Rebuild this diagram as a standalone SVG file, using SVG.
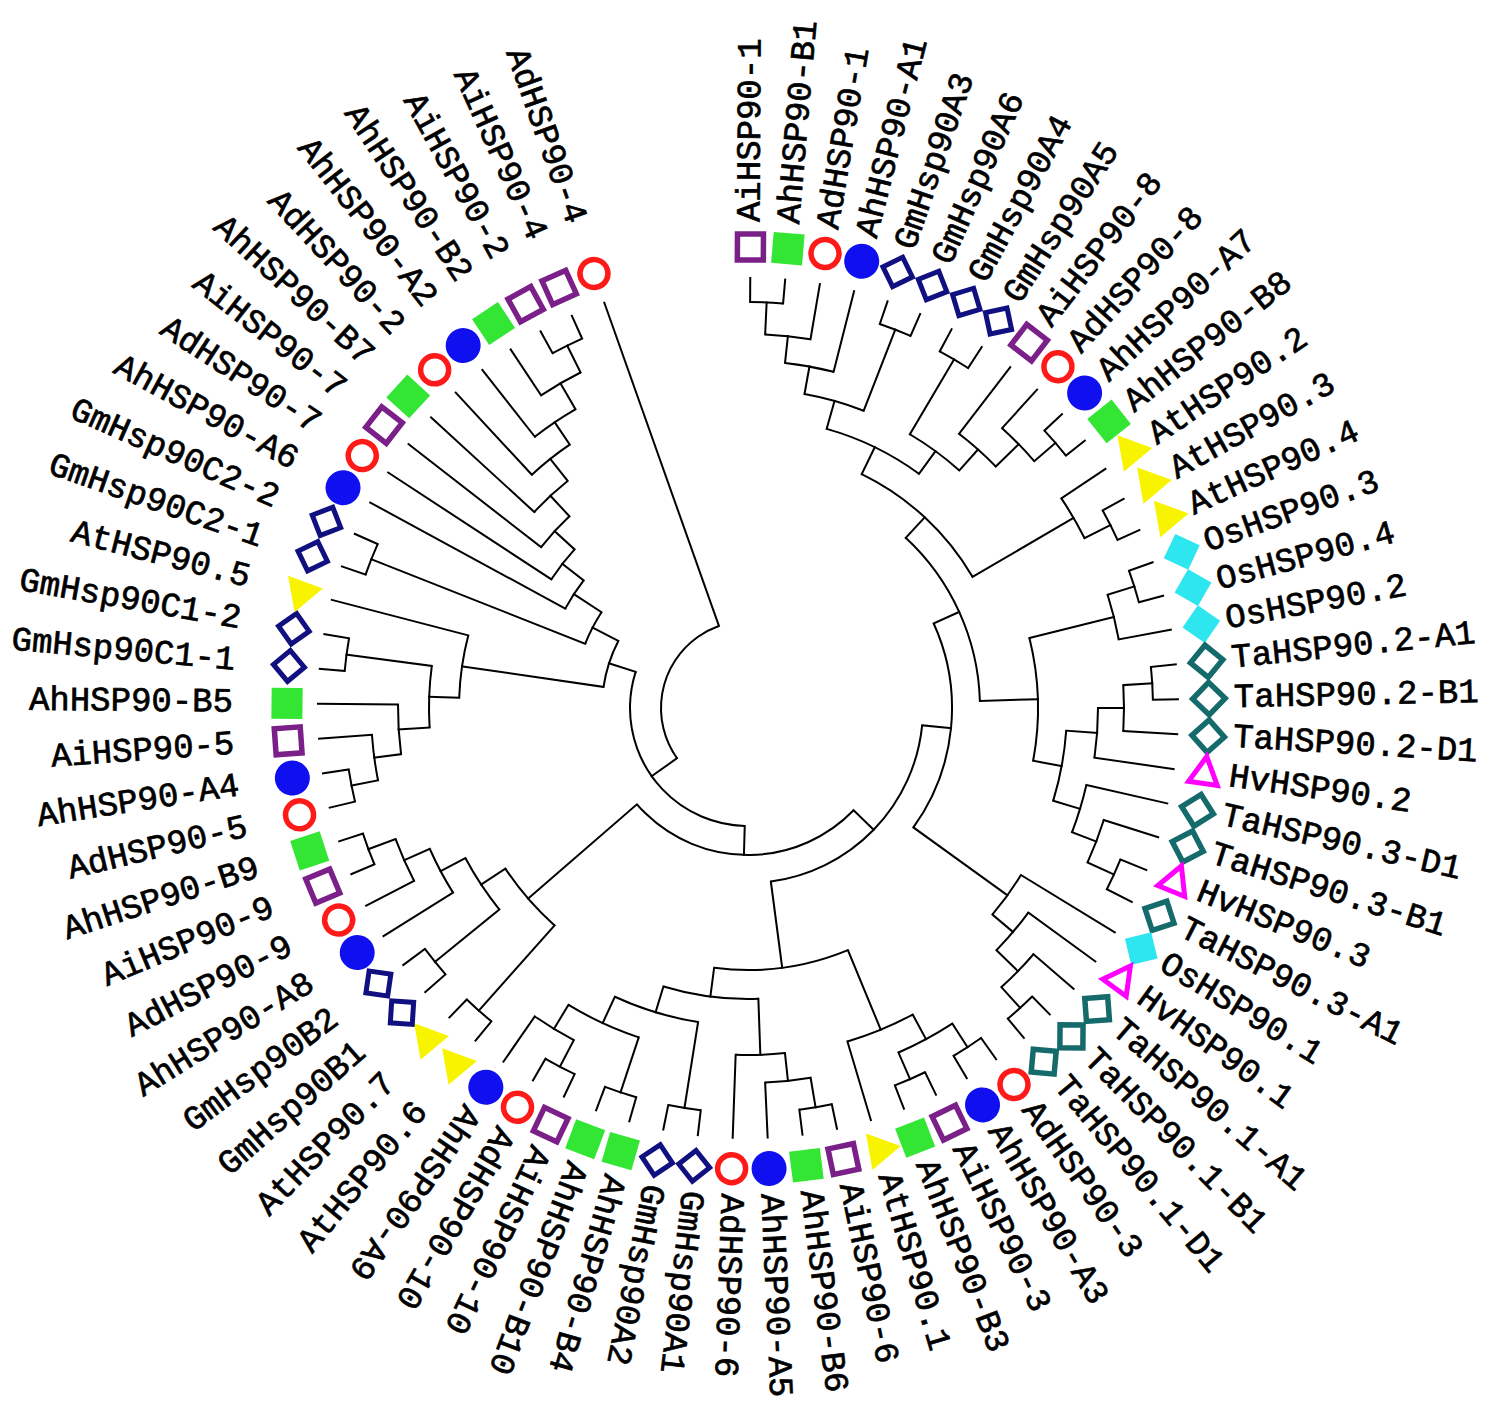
<svg xmlns="http://www.w3.org/2000/svg" xmlns:xlink="http://www.w3.org/1999/xlink" width="1500" height="1413" viewBox="0 0 1500 1413">
<defs>
<style>
.t{font-family:"Liberation Mono","DejaVu Sans Mono",monospace;font-size:34px;fill:#000;stroke:#000;stroke-width:0.7px;dominant-baseline:central}
.e{text-anchor:end}
#tree line,#tree circle{stroke:#000;stroke-width:2;fill:none}
#tree line{stroke-linecap:square}
</style>
<rect id="sqO" x="-13" y="-13" width="26" height="26" fill="none" stroke="#7a2088" stroke-width="5.5"/>
<rect id="sqF" x="-15.5" y="-15.5" width="31" height="31" fill="#33e633"/>
<circle id="cirO" r="14" fill="none" stroke="#ff1a1a" stroke-width="5.5"/>
<circle id="cirF" r="17.5" fill="#0f0fef"/>
<rect id="dmN" x="-11" y="-11" width="22" height="22" fill="none" stroke="#101080" stroke-width="5" transform="rotate(45)"/>
<rect id="dmT" x="-11.5" y="-11.5" width="23" height="23" fill="none" stroke="#156b6b" stroke-width="5.5" transform="rotate(45)"/>
<rect id="dmC" x="-13.5" y="-13.5" width="27" height="27" fill="#2ee6f0" transform="rotate(45)"/>
<polygon id="triY" points="21,-3.7 -7.3,20.1 -13.7,-16.4" fill="#f8f400"/>
<polygon id="triM" points="0,-17 14.5,10 -14.5,10" fill="none" stroke="#ff00ff" stroke-width="5" stroke-linejoin="miter"/>
</defs>
<rect width="1500" height="1413" fill="#fff"/>
<g id="tree" transform="translate(748 708)">
<g id="arcs">
<circle r="406" pathLength="360" stroke-dasharray="4.66 400" transform="rotate(-89.7)"/>
<circle r="374" pathLength="360" stroke-dasharray="6.99 400" transform="rotate(-87.37)"/>
<circle r="347" pathLength="360" stroke-dasharray="8.155 400" transform="rotate(-83.875)"/>
<circle r="406" pathLength="360" stroke-dasharray="4.66 400" transform="rotate(-71.06)"/>
<circle r="319" pathLength="360" stroke-dasharray="11.07 400" transform="rotate(-79.8)"/>
<circle r="405" pathLength="360" stroke-dasharray="4.66 400" transform="rotate(-61.74)"/>
<circle r="406" pathLength="360" stroke-dasharray="4.66 400" transform="rotate(-43.1)"/>
<circle r="378" pathLength="360" stroke-dasharray="6.99 400" transform="rotate(-47.76)"/>
<circle r="346" pathLength="360" stroke-dasharray="8.155 400" transform="rotate(-52.42)"/>
<circle r="318" pathLength="360" stroke-dasharray="11.07 400" transform="rotate(-59.41)"/>
<circle r="290" pathLength="360" stroke-dasharray="20.385 400" transform="rotate(-74.26)"/>
<circle r="406" pathLength="360" stroke-dasharray="4.66 400" transform="rotate(-29.12)"/>
<circle r="377" pathLength="360" stroke-dasharray="6.99 400" transform="rotate(-33.78)"/>
<circle r="260" pathLength="360" stroke-dasharray="33.785 400" transform="rotate(-64.07)"/>
<circle r="405" pathLength="360" stroke-dasharray="4.66 400" transform="rotate(-19.8)"/>
<circle r="377" pathLength="360" stroke-dasharray="6.99 400" transform="rotate(-17.47)"/>
<circle r="405" pathLength="360" stroke-dasharray="4.66 400" transform="rotate(-5.82)"/>
<circle r="376" pathLength="360" stroke-dasharray="6.99 400" transform="rotate(-3.49)"/>
<circle r="350" pathLength="360" stroke-dasharray="8.155 400" transform="rotate(0.005)"/>
<circle r="402" pathLength="360" stroke-dasharray="4.66 400" transform="rotate(22.14)"/>
<circle r="373" pathLength="360" stroke-dasharray="6.99 400" transform="rotate(17.48)"/>
<circle r="347" pathLength="360" stroke-dasharray="8.155 400" transform="rotate(12.82)"/>
<circle r="319" pathLength="360" stroke-dasharray="12.82 400" transform="rotate(4.08)"/>
<circle r="290" pathLength="360" stroke-dasharray="24.465 400" transform="rotate(-13.975)"/>
<circle r="232" pathLength="360" stroke-dasharray="45.44 400" transform="rotate(-47.18)"/>
<circle r="405" pathLength="360" stroke-dasharray="4.66 400" transform="rotate(45.44)"/>
<circle r="377" pathLength="360" stroke-dasharray="6.99 400" transform="rotate(40.78)"/>
<circle r="347" pathLength="360" stroke-dasharray="8.155 400" transform="rotate(36.12)"/>
<circle r="320" pathLength="360" stroke-dasharray="8.74 400" transform="rotate(31.46)"/>
<circle r="204" pathLength="360" stroke-dasharray="60.29 400" transform="rotate(-24.46)"/>
<circle r="404" pathLength="360" stroke-dasharray="4.66 400" transform="rotate(54.76)"/>
<circle r="405" pathLength="360" stroke-dasharray="4.66 400" transform="rotate(64.08)"/>
<circle r="376" pathLength="360" stroke-dasharray="9.32 400" transform="rotate(57.09)"/>
<circle r="348" pathLength="360" stroke-dasharray="11.65 400" transform="rotate(61.75)"/>
<circle r="405" pathLength="360" stroke-dasharray="4.66 400" transform="rotate(78.06)"/>
<circle r="375" pathLength="360" stroke-dasharray="6.99 400" transform="rotate(80.39)"/>
<circle r="347" pathLength="360" stroke-dasharray="8.155 400" transform="rotate(83.885)"/>
<circle r="405" pathLength="360" stroke-dasharray="4.66 400" transform="rotate(96.7)"/>
<circle r="405" pathLength="360" stroke-dasharray="4.66 400" transform="rotate(106.02)"/>
<circle r="405" pathLength="360" stroke-dasharray="4.66 400" transform="rotate(115.34)"/>
<circle r="375" pathLength="360" stroke-dasharray="6.99 400" transform="rotate(117.67)"/>
<circle r="347" pathLength="360" stroke-dasharray="12.815 400" transform="rotate(108.35)"/>
<circle r="318" pathLength="360" stroke-dasharray="15.73 400" transform="rotate(99.03)"/>
<circle r="291" pathLength="360" stroke-dasharray="18.935 400" transform="rotate(87.96)"/>
<circle r="262" pathLength="360" stroke-dasharray="29.855 400" transform="rotate(67.575)"/>
<circle r="175" pathLength="360" stroke-dasharray="76.815 400" transform="rotate(5.685)"/>
<circle r="405" pathLength="360" stroke-dasharray="4.66 400" transform="rotate(129.32)"/>
<circle r="403" pathLength="360" stroke-dasharray="4.66 400" transform="rotate(138.64)"/>
<circle r="405" pathLength="360" stroke-dasharray="4.66 400" transform="rotate(157.28)"/>
<circle r="376" pathLength="360" stroke-dasharray="6.99 400" transform="rotate(152.62)"/>
<circle r="348" pathLength="360" stroke-dasharray="8.155 400" transform="rotate(147.96)"/>
<circle r="320" pathLength="360" stroke-dasharray="11.07 400" transform="rotate(140.97)"/>
<circle r="291" pathLength="360" stroke-dasharray="14.855 400" transform="rotate(131.65)"/>
<circle r="147" pathLength="360" stroke-dasharray="94.99 400" transform="rotate(44.09)"/>
<circle r="404" pathLength="360" stroke-dasharray="4.66 400" transform="rotate(166.6)"/>
<circle r="377" pathLength="360" stroke-dasharray="6.99 400" transform="rotate(168.93)"/>
<circle r="350" pathLength="360" stroke-dasharray="8.155 400" transform="rotate(172.425)"/>
<circle r="405" pathLength="360" stroke-dasharray="4.66 400" transform="rotate(185.24)"/>
<circle r="319" pathLength="360" stroke-dasharray="11.07 400" transform="rotate(176.5)"/>
<circle r="289" pathLength="360" stroke-dasharray="12.525 400" transform="rotate(182.035)"/>
<circle r="405" pathLength="360" stroke-dasharray="4.66 400" transform="rotate(199.22)"/>
<circle r="405" pathLength="360" stroke-dasharray="4.66 400" transform="rotate(241.16)"/>
<circle r="375" pathLength="360" stroke-dasharray="6.99 400" transform="rotate(236.5)"/>
<circle r="345" pathLength="360" stroke-dasharray="8.155 400" transform="rotate(231.84)"/>
<circle r="318" pathLength="360" stroke-dasharray="8.74 400" transform="rotate(227.18)"/>
<circle r="290" pathLength="360" stroke-dasharray="9.03 400" transform="rotate(222.52)"/>
<circle r="262" pathLength="360" stroke-dasharray="9.175 400" transform="rotate(217.86)"/>
<circle r="235" pathLength="360" stroke-dasharray="9.25 400" transform="rotate(213.2)"/>
<circle r="208" pathLength="360" stroke-dasharray="9.285 400" transform="rotate(208.54)"/>
<circle r="175" pathLength="360" stroke-dasharray="11.63 400" transform="rotate(201.55)"/>
<circle r="146" pathLength="360" stroke-dasharray="19.065 400" transform="rotate(188.3)"/>
<circle r="118" pathLength="360" stroke-dasharray="106.245 400" transform="rotate(91.585)"/>
<circle r="87" pathLength="360" stroke-dasharray="105.77 400" transform="rotate(144.71)"/>
</g>
<g id="branches">
<line x1="406" x2="430" transform="rotate(-89.7)"/>
<line x1="406" x2="430" transform="rotate(-85.04)"/>
<line x1="374" x2="430" transform="rotate(-80.38)"/>
<line x1="347" x2="430" transform="rotate(-75.72)"/>
<line x1="406" x2="430" transform="rotate(-71.06)"/>
<line x1="406" x2="430" transform="rotate(-66.4)"/>
<line x1="405" x2="430" transform="rotate(-61.74)"/>
<line x1="405" x2="430" transform="rotate(-57.08)"/>
<line x1="346" x2="430" transform="rotate(-52.42)"/>
<line x1="378" x2="430" transform="rotate(-47.76)"/>
<line x1="406" x2="430" transform="rotate(-43.1)"/>
<line x1="406" x2="430" transform="rotate(-38.44)"/>
<line x1="377" x2="430" transform="rotate(-33.78)"/>
<line x1="406" x2="430" transform="rotate(-29.12)"/>
<line x1="406" x2="430" transform="rotate(-24.46)"/>
<line x1="405" x2="430" transform="rotate(-19.8)"/>
<line x1="405" x2="430" transform="rotate(-15.14)"/>
<line x1="377" x2="430" transform="rotate(-10.48)"/>
<line x1="405" x2="430" transform="rotate(-5.82)"/>
<line x1="405" x2="430" transform="rotate(-1.16)"/>
<line x1="376" x2="430" transform="rotate(3.5)"/>
<line x1="350" x2="430" transform="rotate(8.16)"/>
<line x1="347" x2="430" transform="rotate(12.82)"/>
<line x1="373" x2="430" transform="rotate(17.48)"/>
<line x1="402" x2="430" transform="rotate(22.14)"/>
<line x1="402" x2="430" transform="rotate(26.8)"/>
<line x1="320" x2="430" transform="rotate(31.46)"/>
<line x1="347" x2="430" transform="rotate(36.12)"/>
<line x1="377" x2="430" transform="rotate(40.78)"/>
<line x1="405" x2="430" transform="rotate(45.44)"/>
<line x1="405" x2="430" transform="rotate(50.1)"/>
<line x1="404" x2="430" transform="rotate(54.76)"/>
<line x1="404" x2="430" transform="rotate(59.42)"/>
<line x1="405" x2="430" transform="rotate(64.08)"/>
<line x1="405" x2="430" transform="rotate(68.74)"/>
<line x1="348" x2="430" transform="rotate(73.4)"/>
<line x1="405" x2="430" transform="rotate(78.06)"/>
<line x1="405" x2="430" transform="rotate(82.72)"/>
<line x1="375" x2="430" transform="rotate(87.38)"/>
<line x1="347" x2="430" transform="rotate(92.04)"/>
<line x1="405" x2="430" transform="rotate(96.7)"/>
<line x1="405" x2="430" transform="rotate(101.36)"/>
<line x1="405" x2="430" transform="rotate(106.02)"/>
<line x1="405" x2="430" transform="rotate(110.68)"/>
<line x1="405" x2="430" transform="rotate(115.34)"/>
<line x1="405" x2="430" transform="rotate(120)"/>
<line x1="375" x2="430" transform="rotate(124.66)"/>
<line x1="405" x2="430" transform="rotate(129.32)"/>
<line x1="405" x2="430" transform="rotate(133.98)"/>
<line x1="403" x2="430" transform="rotate(138.64)"/>
<line x1="403" x2="430" transform="rotate(143.3)"/>
<line x1="348" x2="430" transform="rotate(147.96)"/>
<line x1="376" x2="430" transform="rotate(152.62)"/>
<line x1="405" x2="430" transform="rotate(157.28)"/>
<line x1="405" x2="430" transform="rotate(161.94)"/>
<line x1="404" x2="430" transform="rotate(166.6)"/>
<line x1="404" x2="430" transform="rotate(171.26)"/>
<line x1="377" x2="430" transform="rotate(175.92)"/>
<line x1="350" x2="430" transform="rotate(180.58)"/>
<line x1="405" x2="430" transform="rotate(185.24)"/>
<line x1="405" x2="430" transform="rotate(189.9)"/>
<line x1="289" x2="430" transform="rotate(194.56)"/>
<line x1="405" x2="430" transform="rotate(199.22)"/>
<line x1="405" x2="430" transform="rotate(203.88)"/>
<line x1="208" x2="430" transform="rotate(208.54)"/>
<line x1="235" x2="430" transform="rotate(213.2)"/>
<line x1="262" x2="430" transform="rotate(217.86)"/>
<line x1="290" x2="430" transform="rotate(222.52)"/>
<line x1="318" x2="430" transform="rotate(227.18)"/>
<line x1="345" x2="430" transform="rotate(231.84)"/>
<line x1="375" x2="430" transform="rotate(236.5)"/>
<line x1="405" x2="430" transform="rotate(241.16)"/>
<line x1="405" x2="430" transform="rotate(245.82)"/>
<line x1="87" x2="430" transform="rotate(250.48)"/>
<line x1="374" x2="406" transform="rotate(-87.37)"/>
<line x1="347" x2="374" transform="rotate(-83.875)"/>
<line x1="319" x2="347" transform="rotate(-79.8)"/>
<line x1="319" x2="406" transform="rotate(-68.73)"/>
<line x1="290" x2="319" transform="rotate(-74.26)"/>
<line x1="318" x2="405" transform="rotate(-59.41)"/>
<line x1="378" x2="406" transform="rotate(-40.77)"/>
<line x1="346" x2="378" transform="rotate(-44.265)"/>
<line x1="318" x2="346" transform="rotate(-48.34)"/>
<line x1="290" x2="318" transform="rotate(-53.875)"/>
<line x1="260" x2="290" transform="rotate(-64.07)"/>
<line x1="377" x2="406" transform="rotate(-26.79)"/>
<line x1="260" x2="377" transform="rotate(-30.285)"/>
<line x1="232" x2="260" transform="rotate(-47.18)"/>
<line x1="377" x2="405" transform="rotate(-17.47)"/>
<line x1="290" x2="377" transform="rotate(-13.975)"/>
<line x1="376" x2="405" transform="rotate(-3.49)"/>
<line x1="350" x2="376" transform="rotate(0.005)"/>
<line x1="319" x2="350" transform="rotate(4.08)"/>
<line x1="373" x2="402" transform="rotate(24.47)"/>
<line x1="347" x2="373" transform="rotate(20.975)"/>
<line x1="319" x2="347" transform="rotate(16.9)"/>
<line x1="290" x2="319" transform="rotate(10.49)"/>
<line x1="232" x2="290" transform="rotate(-1.74)"/>
<line x1="204" x2="232" transform="rotate(-24.46)"/>
<line x1="377" x2="405" transform="rotate(47.77)"/>
<line x1="347" x2="377" transform="rotate(44.275)"/>
<line x1="320" x2="347" transform="rotate(40.2)"/>
<line x1="204" x2="320" transform="rotate(35.83)"/>
<line x1="175" x2="204" transform="rotate(5.685)"/>
<line x1="376" x2="404" transform="rotate(57.09)"/>
<line x1="376" x2="405" transform="rotate(66.41)"/>
<line x1="348" x2="376" transform="rotate(61.75)"/>
<line x1="262" x2="348" transform="rotate(67.575)"/>
<line x1="375" x2="405" transform="rotate(80.39)"/>
<line x1="347" x2="375" transform="rotate(83.885)"/>
<line x1="291" x2="347" transform="rotate(87.96)"/>
<line x1="318" x2="405" transform="rotate(99.03)"/>
<line x1="347" x2="405" transform="rotate(108.35)"/>
<line x1="375" x2="405" transform="rotate(117.67)"/>
<line x1="347" x2="375" transform="rotate(121.165)"/>
<line x1="318" x2="347" transform="rotate(114.76)"/>
<line x1="291" x2="318" transform="rotate(106.895)"/>
<line x1="262" x2="291" transform="rotate(97.43)"/>
<line x1="175" x2="262" transform="rotate(82.5)"/>
<line x1="147" x2="175" transform="rotate(44.09)"/>
<line x1="291" x2="405" transform="rotate(131.65)"/>
<line x1="320" x2="403" transform="rotate(140.97)"/>
<line x1="376" x2="405" transform="rotate(159.61)"/>
<line x1="348" x2="376" transform="rotate(156.115)"/>
<line x1="320" x2="348" transform="rotate(152.04)"/>
<line x1="291" x2="320" transform="rotate(146.505)"/>
<line x1="147" x2="291" transform="rotate(139.08)"/>
<line x1="118" x2="147" transform="rotate(91.585)"/>
<line x1="377" x2="404" transform="rotate(168.93)"/>
<line x1="350" x2="377" transform="rotate(172.425)"/>
<line x1="319" x2="350" transform="rotate(176.5)"/>
<line x1="319" x2="405" transform="rotate(187.57)"/>
<line x1="289" x2="319" transform="rotate(182.035)"/>
<line x1="146" x2="289" transform="rotate(188.3)"/>
<line x1="175" x2="405" transform="rotate(201.55)"/>
<line x1="375" x2="405" transform="rotate(243.49)"/>
<line x1="345" x2="375" transform="rotate(239.995)"/>
<line x1="318" x2="345" transform="rotate(235.92)"/>
<line x1="290" x2="318" transform="rotate(231.55)"/>
<line x1="262" x2="290" transform="rotate(227.035)"/>
<line x1="235" x2="262" transform="rotate(222.45)"/>
<line x1="208" x2="235" transform="rotate(217.825)"/>
<line x1="175" x2="208" transform="rotate(213.18)"/>
<line x1="146" x2="175" transform="rotate(207.365)"/>
<line x1="118" x2="146" transform="rotate(197.83)"/>
<line x1="87" x2="118" transform="rotate(144.71)"/>
</g>
</g>
<g id="leaves" transform="translate(748 708)">
<g id="AiHSP90-1" transform="rotate(-89.7)"><use href="#sqO" x="461"/><text class="t" x="486">AiHSP90-1</text></g>
<g id="AhHSP90-B1" transform="rotate(-85.04)"><use href="#sqF" x="461"/><text class="t" x="486">AhHSP90-B1</text></g>
<g id="AdHSP90-1" transform="rotate(-80.38)"><use href="#cirO" x="461"/><text class="t" x="486">AdHSP90-1</text></g>
<g id="AhHSP90-A1" transform="rotate(-75.72)"><use href="#cirF" x="461"/><text class="t" x="486">AhHSP90-A1</text></g>
<g id="GmHsp90A3" transform="rotate(-71.06)"><use href="#dmN" transform="translate(461 0)"/><text class="t" x="486">GmHsp90A3</text></g>
<g id="GmHsp90A6" transform="rotate(-66.4)"><use href="#dmN" transform="translate(461 0)"/><text class="t" x="486">GmHsp90A6</text></g>
<g id="GmHsp90A4" transform="rotate(-61.74)"><use href="#dmN" transform="translate(461 0)"/><text class="t" x="486">GmHsp90A4</text></g>
<g id="GmHsp90A5" transform="rotate(-57.08)"><use href="#dmN" transform="translate(461 0)"/><text class="t" x="486">GmHsp90A5</text></g>
<g id="AiHSP90-8" transform="rotate(-52.42)"><use href="#sqO" x="461"/><text class="t" x="486">AiHSP90-8</text></g>
<g id="AdHSP90-8" transform="rotate(-47.76)"><use href="#cirO" x="461"/><text class="t" x="486">AdHSP90-8</text></g>
<g id="AhHSP90-A7" transform="rotate(-43.1)"><use href="#cirF" x="461"/><text class="t" x="486">AhHSP90-A7</text></g>
<g id="AhHSP90-B8" transform="rotate(-38.44)"><use href="#sqF" x="461"/><text class="t" x="486">AhHSP90-B8</text></g>
<g id="AtHSP90.2" transform="rotate(-33.78)"><use href="#triY" transform="translate(461 0) rotate(33.78)"/><text class="t" x="486">AtHSP90.2</text></g>
<g id="AtHSP90.3" transform="rotate(-29.12)"><use href="#triY" transform="translate(461 0) rotate(29.12)"/><text class="t" x="486">AtHSP90.3</text></g>
<g id="AtHSP90.4" transform="rotate(-24.46)"><use href="#triY" transform="translate(461 0) rotate(24.46)"/><text class="t" x="486">AtHSP90.4</text></g>
<g id="OsHSP90.3" transform="rotate(-19.8)"><use href="#dmC" transform="translate(461 0)"/><text class="t" x="486">OsHSP90.3</text></g>
<g id="OsHSP90.4" transform="rotate(-15.14)"><use href="#dmC" transform="translate(461 0)"/><text class="t" x="486">OsHSP90.4</text></g>
<g id="OsHSP90.2" transform="rotate(-10.48)"><use href="#dmC" transform="translate(461 0)"/><text class="t" x="486">OsHSP90.2</text></g>
<g id="TaHSP90.2-A1" transform="rotate(-5.82)"><use href="#dmT" transform="translate(461 0)"/><text class="t" x="486">TaHSP90.2-A1</text></g>
<g id="TaHSP90.2-B1" transform="rotate(-1.16)"><use href="#dmT" transform="translate(461 0)"/><text class="t" x="486">TaHSP90.2-B1</text></g>
<g id="TaHSP90.2-D1" transform="rotate(3.5)"><use href="#dmT" transform="translate(461 0)"/><text class="t" x="486">TaHSP90.2-D1</text></g>
<g id="HvHSP90.2" transform="rotate(8.16)"><use href="#triM" transform="translate(461 0)"/><text class="t" x="486">HvHSP90.2</text></g>
<g id="TaHSP90.3-D1" transform="rotate(12.82)"><use href="#dmT" transform="translate(461 0)"/><text class="t" x="486">TaHSP90.3-D1</text></g>
<g id="TaHSP90.3-B1" transform="rotate(17.48)"><use href="#dmT" transform="translate(461 0)"/><text class="t" x="486">TaHSP90.3-B1</text></g>
<g id="HvHSP90.3" transform="rotate(22.14)"><use href="#triM" transform="translate(461 0)"/><text class="t" x="486">HvHSP90.3</text></g>
<g id="TaHSP90.3-A1" transform="rotate(26.8)"><use href="#dmT" transform="translate(461 0)"/><text class="t" x="486">TaHSP90.3-A1</text></g>
<g id="OsHSP90.1" transform="rotate(31.46)"><use href="#dmC" transform="translate(461 0)"/><text class="t" x="486">OsHSP90.1</text></g>
<g id="HvHSP90.1" transform="rotate(36.12)"><use href="#triM" transform="translate(461 0)"/><text class="t" x="486">HvHSP90.1</text></g>
<g id="TaHSP90.1-A1" transform="rotate(40.78)"><use href="#dmT" transform="translate(461 0)"/><text class="t" x="486">TaHSP90.1-A1</text></g>
<g id="TaHSP90.1-B1" transform="rotate(45.44)"><use href="#dmT" transform="translate(461 0)"/><text class="t" x="486">TaHSP90.1-B1</text></g>
<g id="TaHSP90.1-D1" transform="rotate(50.1)"><use href="#dmT" transform="translate(461 0)"/><text class="t" x="486">TaHSP90.1-D1</text></g>
<g id="AdHSP90-3" transform="rotate(54.76)"><use href="#cirO" x="461"/><text class="t" x="486">AdHSP90-3</text></g>
<g id="AhHSP90-A3" transform="rotate(59.42)"><use href="#cirF" x="461"/><text class="t" x="486">AhHSP90-A3</text></g>
<g id="AiHSP90-3" transform="rotate(64.08)"><use href="#sqO" x="461"/><text class="t" x="486">AiHSP90-3</text></g>
<g id="AhHSP90-B3" transform="rotate(68.74)"><use href="#sqF" x="461"/><text class="t" x="486">AhHSP90-B3</text></g>
<g id="AtHSP90.1" transform="rotate(73.4)"><use href="#triY" transform="translate(461 0) rotate(-73.4)"/><text class="t" x="486">AtHSP90.1</text></g>
<g id="AiHSP90-6" transform="rotate(78.06)"><use href="#sqO" x="461"/><text class="t" x="486">AiHSP90-6</text></g>
<g id="AhHSP90-B6" transform="rotate(82.72)"><use href="#sqF" x="461"/><text class="t" x="486">AhHSP90-B6</text></g>
<g id="AhHSP90-A5" transform="rotate(87.38)"><use href="#cirF" x="461"/><text class="t" x="486">AhHSP90-A5</text></g>
<g id="AdHSP90-6" transform="rotate(92.04)"><use href="#cirO" x="461"/><text class="t" x="486">AdHSP90-6</text></g>
<g id="GmHsp90A1" transform="rotate(96.7)"><use href="#dmN" transform="translate(461 0)"/><text class="t" x="486">GmHsp90A1</text></g>
<g id="GmHsp90A2" transform="rotate(101.36)"><use href="#dmN" transform="translate(461 0)"/><text class="t" x="486">GmHsp90A2</text></g>
<g id="AhHSP90-B4" transform="rotate(106.02)"><use href="#sqF" x="461"/><text class="t" x="486">AhHSP90-B4</text></g>
<g id="AhHSP90-B10" transform="rotate(110.68)"><use href="#sqF" x="461"/><text class="t" x="486">AhHSP90-B10</text></g>
<g id="AiHSP90-10" transform="rotate(115.34)"><use href="#sqO" x="461"/><text class="t" x="486">AiHSP90-10</text></g>
<g id="AdHSP90-10" transform="rotate(120)"><use href="#cirO" x="461"/><text class="t" x="486">AdHSP90-10</text></g>
<g id="AhHSP90-A9" transform="rotate(124.66)"><use href="#cirF" x="461"/><text class="t" x="486">AhHSP90-A9</text></g>
<g id="AtHSP90.6" transform="rotate(129.32)"><use href="#triY" transform="translate(461 0) rotate(-129.32)"/><text class="t e" transform="translate(515 0) rotate(180)">AtHSP90.6</text></g>
<g id="AtHSP90.7" transform="rotate(133.98)"><use href="#triY" transform="translate(461 0) rotate(-133.98)"/><text class="t e" transform="translate(515 0) rotate(180)">AtHSP90.7</text></g>
<g id="GmHsp90B1" transform="rotate(138.64)"><use href="#dmN" transform="translate(461 0)"/><text class="t e" transform="translate(515 0) rotate(180)">GmHsp90B1</text></g>
<g id="GmHsp90B2" transform="rotate(143.3)"><use href="#dmN" transform="translate(461 0)"/><text class="t e" transform="translate(515 0) rotate(180)">GmHsp90B2</text></g>
<g id="AhHSP90-A8" transform="rotate(147.96)"><use href="#cirF" x="461"/><text class="t e" transform="translate(515 0) rotate(180)">AhHSP90-A8</text></g>
<g id="AdHSP90-9" transform="rotate(152.62)"><use href="#cirO" x="461"/><text class="t e" transform="translate(515 0) rotate(180)">AdHSP90-9</text></g>
<g id="AiHSP90-9" transform="rotate(157.28)"><use href="#sqO" x="461"/><text class="t e" transform="translate(515 0) rotate(180)">AiHSP90-9</text></g>
<g id="AhHSP90-B9" transform="rotate(161.94)"><use href="#sqF" x="461"/><text class="t e" transform="translate(515 0) rotate(180)">AhHSP90-B9</text></g>
<g id="AdHSP90-5" transform="rotate(166.6)"><use href="#cirO" x="461"/><text class="t e" transform="translate(515 0) rotate(180)">AdHSP90-5</text></g>
<g id="AhHSP90-A4" transform="rotate(171.26)"><use href="#cirF" x="461"/><text class="t e" transform="translate(515 0) rotate(180)">AhHSP90-A4</text></g>
<g id="AiHSP90-5" transform="rotate(175.92)"><use href="#sqO" x="461"/><text class="t e" transform="translate(515 0) rotate(180)">AiHSP90-5</text></g>
<g id="AhHSP90-B5" transform="rotate(180.58)"><use href="#sqF" x="461"/><text class="t e" transform="translate(515 0) rotate(180)">AhHSP90-B5</text></g>
<g id="GmHsp90C1-1" transform="rotate(185.24)"><use href="#dmN" transform="translate(461 0)"/><text class="t e" transform="translate(515 0) rotate(180)">GmHsp90C1-1</text></g>
<g id="GmHsp90C1-2" transform="rotate(189.9)"><use href="#dmN" transform="translate(461 0)"/><text class="t e" transform="translate(515 0) rotate(180)">GmHsp90C1-2</text></g>
<g id="AtHSP90.5" transform="rotate(194.56)"><use href="#triY" transform="translate(461 0) rotate(-194.56)"/><text class="t e" transform="translate(515 0) rotate(180)">AtHSP90.5</text></g>
<g id="GmHsp90C2-1" transform="rotate(199.22)"><use href="#dmN" transform="translate(461 0)"/><text class="t e" transform="translate(515 0) rotate(180)">GmHsp90C2-1</text></g>
<g id="GmHsp90C2-2" transform="rotate(203.88)"><use href="#dmN" transform="translate(461 0)"/><text class="t e" transform="translate(515 0) rotate(180)">GmHsp90C2-2</text></g>
<g id="AhHSP90-A6" transform="rotate(208.54)"><use href="#cirF" x="461"/><text class="t e" transform="translate(515 0) rotate(180)">AhHSP90-A6</text></g>
<g id="AdHSP90-7" transform="rotate(213.2)"><use href="#cirO" x="461"/><text class="t e" transform="translate(515 0) rotate(180)">AdHSP90-7</text></g>
<g id="AiHSP90-7" transform="rotate(217.86)"><use href="#sqO" x="461"/><text class="t e" transform="translate(515 0) rotate(180)">AiHSP90-7</text></g>
<g id="AhHSP90-B7" transform="rotate(222.52)"><use href="#sqF" x="461"/><text class="t e" transform="translate(515 0) rotate(180)">AhHSP90-B7</text></g>
<g id="AdHSP90-2" transform="rotate(227.18)"><use href="#cirO" x="461"/><text class="t e" transform="translate(515 0) rotate(180)">AdHSP90-2</text></g>
<g id="AhHSP90-A2" transform="rotate(231.84)"><use href="#cirF" x="461"/><text class="t e" transform="translate(515 0) rotate(180)">AhHSP90-A2</text></g>
<g id="AhHSP90-B2" transform="rotate(236.5)"><use href="#sqF" x="461"/><text class="t e" transform="translate(515 0) rotate(180)">AhHSP90-B2</text></g>
<g id="AiHSP90-2" transform="rotate(241.16)"><use href="#sqO" x="461"/><text class="t e" transform="translate(515 0) rotate(180)">AiHSP90-2</text></g>
<g id="AiHSP90-4" transform="rotate(245.82)"><use href="#sqO" x="461"/><text class="t e" transform="translate(515 0) rotate(180)">AiHSP90-4</text></g>
<g id="AdHSP90-4" transform="rotate(250.48)"><use href="#cirO" x="461"/><text class="t e" transform="translate(515 0) rotate(180)">AdHSP90-4</text></g>
</g>
</svg>
